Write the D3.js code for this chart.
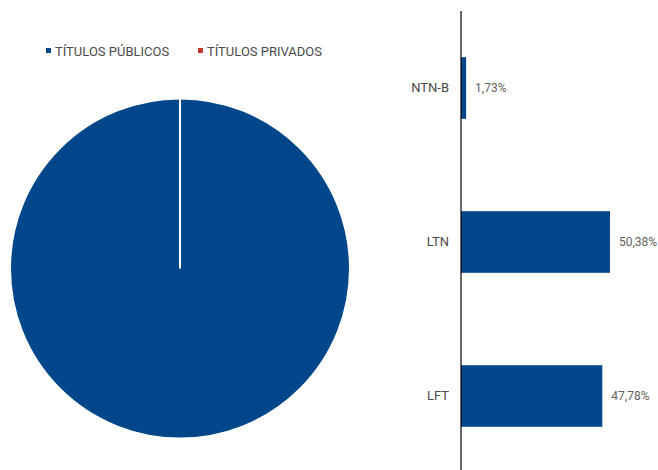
<!DOCTYPE html>
<html>
<head>
<meta charset="utf-8">
<script src="https://cdn.jsdelivr.net/npm/d3@7"></script>
<style>
  body { margin: 0; background: #fff; }
  text { font-family: Roboto, "Liberation Sans", sans-serif; }
</style>
</head>
<body>
<div id="chart"></div>
<script>
// pie: composition by type of security
var pieLabels = ["TÍTULOS PÚBLICOS", "TÍTULOS PRIVADOS"];
var pieValues = [100, 0];
var pieColors = ["#00468B", "#C0392B"];

// bars: public securities by index
var barCategories = ["NTN-B", "LTN", "LFT"];
var barValues = [1.73, 50.38, 47.78];

var width = 658, height = 470;
var blue = "#00468B";

var svg = d3.select("#chart").append("svg")
    .attr("width", width)
    .attr("height", height);

//----- pie
var pieData = pieLabels.map(function (d, i) {
  return { label: d, value: pieValues[i], color: pieColors[i] };
});

var pie = d3.pie().value(function (d) { return d.value; });
var arc = d3.arc().innerRadius(0).outerRadius(170);

var gPie = svg.append("g").attr("transform", "translate(180,268.5)");
gPie.selectAll("path")
    .data(pie(pieData))
    .enter().append("path")
    .attr("d", arc)
    .attr("fill", function (d) { return d.data.color; })
    .attr("stroke", "#fff")
    .attr("stroke-width", 2);

// legend
var legendX = [46, 198];
var legend = svg.append("g").selectAll("g")
    .data(pieData)
    .enter().append("g")
    .attr("transform", function (d, i) { return "translate(" + legendX[i] + ",51)"; });
legend.append("rect")
    .attr("x", 0).attr("y", -3)
    .attr("width", 5).attr("height", 5)
    .attr("fill", function (d) { return d.color; });
legend.append("text")
    .attr("x", 9)
    .attr("y", 4.5)
    .attr("font-size", 13)
    .attr("fill", "#4a4a4a")
    .text(function (d) { return d.label; });

//----- bars
var x = d3.scaleLinear().domain([0, 50.38]).range([461, 610]);
var y = d3.scaleBand()
    .domain(barCategories)
    .range([11, 473])
    .paddingInner(0.6)
    .paddingOuter(0.3);

var gBar = svg.append("g");
gBar.selectAll("rect")
    .data(barCategories)
    .enter().append("rect")
    .attr("x", x(0))
    .attr("y", function (d) { return y(d); })
    .attr("width", function (d, i) { return x(barValues[i]) - x(0); })
    .attr("height", y.bandwidth())
    .attr("fill", blue);

gBar.selectAll("text.value")
    .data(barCategories)
    .enter().append("text")
    .attr("class", "value")
    .attr("x", function (d, i) { return x(barValues[i]) + 9; })
    .attr("y", function (d) { return y(d) + y.bandwidth() / 2; })
    .attr("dy", "0.35em")
    .attr("font-size", 12)
    .attr("fill", "#5f5f5f")
    .text(function (d, i) { return barValues[i].toFixed(2).replace(".", ",") + "%"; });

var yAxis = svg.append("g")
    .attr("transform", "translate(" + x(0) + ",0)")
    .call(d3.axisLeft(y).tickSize(0).tickPadding(12));
yAxis.select(".domain")
    .attr("d", "M0,11V470")
    .attr("stroke", "#000")
    .attr("stroke-width", 1.2);
yAxis.selectAll("text")
    .attr("font-family", "Roboto, 'Liberation Sans', sans-serif")
    .attr("font-size", 13)
    .attr("fill", "#4a4a4a");
</script>
</body>
</html>
